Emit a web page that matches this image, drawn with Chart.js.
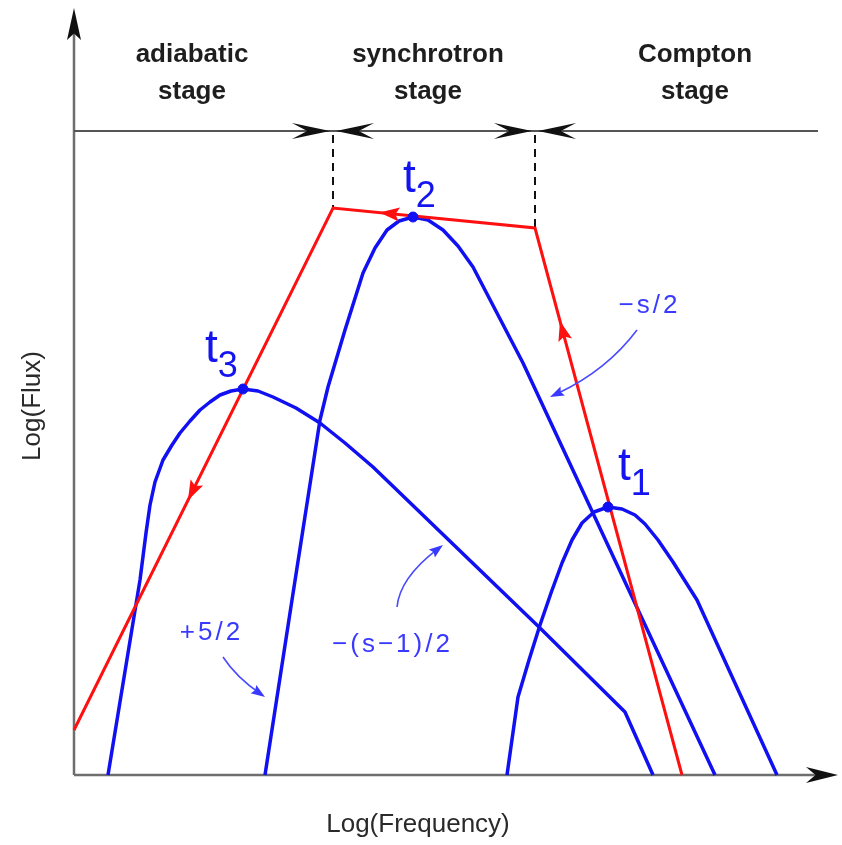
<!DOCTYPE html>
<html lang="en">
<head>
  <meta charset="UTF-8">
  <title>Spectral stages</title>
  <script src="https://cdn.jsdelivr.net/npm/chart.js"></script>
  <style>
    body { margin: 0; background: #fff; }
    #wrap { width: 842px; height: 845px; }
  </style>
</head>
<body>
  <div id="wrap"><canvas id="sketch"></canvas></div>
  <script>
    // log-frequency / log-flux in sketch units
    const redX = [0, 259, 461, 608];
    const redY = [45, 567, 547, 0];

    const t1X = [433, 444, 455, 466, 477, 488, 498, 508, 520, 534, 548, 561, 571, 584, 599, 623, 703];
    const t1Y = [0, 78, 115, 150, 182, 212, 235, 252, 263, 268, 266, 260, 251, 235, 213, 175, 0];

    const t2X = [191, 218, 246, 254, 271, 289, 301, 313, 325, 339, 354, 369, 384, 399, 449, 641];
    const t2Y = [0, 175, 355, 388, 445, 502, 527, 545, 554, 558, 555, 545, 529, 508, 412, 0];

    const t3X = [34, 66, 72, 76, 81, 89, 98, 106, 116, 126, 136, 146, 157, 169, 184, 199, 222, 246, 271, 299, 466, 551, 579];
    const t3Y = [0, 195, 242, 270, 293, 315, 330, 342, 354, 365, 373, 380, 384, 386, 384, 378, 367, 352, 332, 308, 147, 63, 0];

    const peakX = [534, 339, 169];
    const peakY = [268, 558, 386];
    const peakSub = ['1', '2', '3'];
    const peakLabelX = [544, 329, 131];
    const peakLabelY = [295, 583, 413];

    const stageNames = ['adiabatic', 'synchrotron', 'Compton'];
    const stageX = [118, 354, 621];
    const stageLineY = 644;
    const stageBreaks = [259, 461];
    const breakTops = [567, 547];

    // red direction arrows: segment start, segment end, fraction
    const redArrows = [[259, 567, 0, 45, 0.56], [461, 547, 259, 567, 0.77], [608, 0, 461, 547, 0.83]];

    // slope notes: start, control, end of the pointer curve
    const noteText = ['\u2212s/2', '\u2212(s\u22121)/2', '+5/2'];
    const noteX = [574, 317, 136];
    const noteY = [469, 130, 142];
    const notePtr = [[563, 445, 533, 405, 476, 378], [323, 168, 326, 197, 369, 230], [149, 118, 162, 98, 191, 78]];

    const xMax = 761, yMax = 765;

    function toPts(xs, ys) {
      return xs.map((v, i) => ({ x: v, y: ys[i] }));
    }

    function head(ctx, tx, ty, ang, len, half, notch) {
      const c = Math.cos(ang), s = Math.sin(ang);
      ctx.beginPath();
      ctx.moveTo(tx, ty);
      ctx.lineTo(tx - len * c - half * s, ty - len * s + half * c);
      ctx.lineTo(tx - len * (1 - notch) * c, ty - len * (1 - notch) * s);
      ctx.lineTo(tx - len * c + half * s, ty - len * s - half * c);
      ctx.closePath();
      ctx.fill();
    }

    const sketchPlugin = {
      id: 'sketch',
      beforeDatasetsDraw(chart) {
        const { ctx } = chart;
        const px = v => chart.scales.x.getPixelForValue(v);
        const py = v => chart.scales.y.getPixelForValue(v);
        ctx.save();

        // axes
        ctx.strokeStyle = '#6e6e6e';
        ctx.fillStyle = '#111';
        ctx.lineWidth = 2.5;
        ctx.beginPath();
        ctx.moveTo(px(0), py(0));
        ctx.lineTo(px(764) - 20, py(0));
        ctx.moveTo(px(0), py(0));
        ctx.lineTo(px(0), py(767) + 20);
        ctx.stroke();
        head(ctx, px(764), py(0), 0, 32, 8, 0.3);
        head(ctx, px(0), py(767), -Math.PI / 2, 32, 7, 0.2);

        // stage line and boundary arrows
        ctx.strokeStyle = '#555';
        ctx.lineWidth = 1.8;
        ctx.beginPath();
        ctx.moveTo(px(0), py(stageLineY));
        ctx.lineTo(px(744), py(stageLineY));
        ctx.stroke();
        stageBreaks.forEach(b => {
          head(ctx, px(b) - 3, py(stageLineY), 0, 38, 8, 0.4);
          head(ctx, px(b) + 3, py(stageLineY), Math.PI, 38, 8, 0.4);
        });

        // dashed drops to the red break points
        ctx.strokeStyle = '#111';
        ctx.lineWidth = 2;
        ctx.setLineDash([8, 6]);
        stageBreaks.forEach((b, i) => {
          ctx.beginPath();
          ctx.moveTo(px(b), py(stageLineY) + 4);
          ctx.lineTo(px(b), py(breakTops[i]));
          ctx.stroke();
        });
        ctx.setLineDash([]);

        // texts
        ctx.fillStyle = '#1e1e1e';
        ctx.font = 'bold 26px "Liberation Sans", Arial, sans-serif';
        ctx.textAlign = 'center';
        ctx.textBaseline = 'alphabetic';
        stageNames.forEach((n, i) => {
          ctx.fillText(n, px(stageX[i]), py(713));
          ctx.fillText('stage', px(stageX[i]), py(676));
        });

        ctx.fillStyle = '#2a2a2a';
        ctx.font = '26px "Liberation Sans", Arial, sans-serif';
        ctx.fillText('Log(Frequency)', px(344), py(-57));
        ctx.save();
        ctx.translate(px(-34), py(369));
        ctx.rotate(-Math.PI / 2);
        ctx.fillText('Log(Flux)', 0, 0);
        ctx.restore();

        ctx.restore();
      },
      afterDatasetsDraw(chart) {
        const { ctx } = chart;
        const px = v => chart.scales.x.getPixelForValue(v);
        const py = v => chart.scales.y.getPixelForValue(v);
        ctx.save();

        // red arrows along the break path
        ctx.fillStyle = '#ff1010';
        redArrows.forEach(a => {
          const x1 = px(a[0]), y1 = py(a[1]), x2 = px(a[2]), y2 = py(a[3]);
          const tx = x1 + (x2 - x1) * a[4], ty = y1 + (y2 - y1) * a[4];
          head(ctx, tx, ty, Math.atan2(y2 - y1, x2 - x1), 20, 7, 0.2);
        });

        // peak labels
        ctx.fillStyle = '#1414f0';
        ctx.textAlign = 'left';
        ctx.textBaseline = 'alphabetic';
        peakSub.forEach((s, i) => {
          const x0 = px(peakLabelX[i]), y0 = py(peakLabelY[i]);
          ctx.font = '46px "Liberation Sans", Arial, sans-serif';
          ctx.fillText('t', x0, y0);
          const w = ctx.measureText('t').width;
          ctx.font = '36px "Liberation Sans", Arial, sans-serif';
          ctx.fillText(s, x0 + w, y0 + 15);
        });

        // slope notes with pointers
        ctx.strokeStyle = '#4a4aff';
        ctx.fillStyle = '#3a3aff';
        ctx.lineWidth = 1.6;
        notePtr.forEach(p => {
          const sx = px(p[0]), sy = py(p[1]), cx = px(p[2]), cy = py(p[3]), ex = px(p[4]), ey = py(p[5]);
          ctx.beginPath();
          ctx.moveTo(sx, sy);
          ctx.quadraticCurveTo(cx, cy, ex - (ex - cx) * 0.15, ey - (ey - cy) * 0.15);
          ctx.stroke();
          head(ctx, ex, ey, Math.atan2(ey - cy, ex - cx), 14, 5, 0.15);
        });
        ctx.font = '26px "Liberation Sans", Arial, sans-serif';
        ctx.letterSpacing = '3px';
        ctx.textAlign = 'center';
        ctx.textBaseline = 'middle';
        noteText.forEach((t, i) => ctx.fillText(t, px(noteX[i]) + 1.5, py(noteY[i])));
        ctx.letterSpacing = '0px';

        ctx.restore();
      }
    };

    const curveStyle = {
      showLine: true,
      borderColor: '#1010f2',
      borderWidth: 3.5,
      borderJoinStyle: 'round',
      pointRadius: 0,
      tension: 0,
      clip: false
    };

    new Chart(document.getElementById('sketch'), {
      type: 'scatter',
      data: {
        datasets: [
          { label: 'peaks', data: toPts(peakX, peakY), pointRadius: 5, backgroundColor: '#1010f2', borderColor: '#1010f2', clip: false },
          { label: 'break', data: toPts(redX, redY), showLine: true, borderColor: '#ff1010', borderWidth: 3, pointRadius: 0, tension: 0, clip: false },
          Object.assign({ label: 't1', data: toPts(t1X, t1Y) }, curveStyle),
          Object.assign({ label: 't2', data: toPts(t2X, t2Y) }, curveStyle),
          Object.assign({ label: 't3', data: toPts(t3X, t3Y) }, curveStyle)
        ]
      },
      options: {
        responsive: true,
        maintainAspectRatio: false,
        animation: false,
        layout: { padding: { left: 74, right: 7, top: 10, bottom: 70 } },
        plugins: { legend: { display: false }, tooltip: { enabled: false } },
        scales: {
          x: { type: 'linear', min: 0, max: xMax, display: false },
          y: { type: 'linear', min: 0, max: yMax, display: false }
        }
      },
      plugins: [sketchPlugin]
    });
  </script>
</body>
</html>
